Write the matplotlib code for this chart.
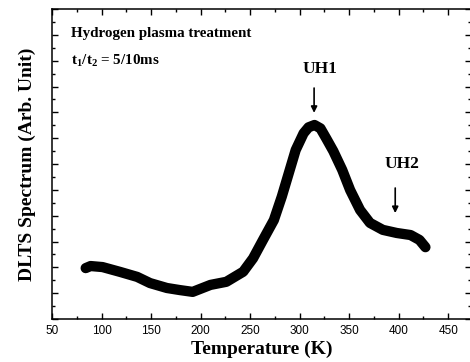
import matplotlib
matplotlib.use("Agg")
import matplotlib.pyplot as plt
from matplotlib.ticker import MultipleLocator

# DLTS spectrum (temperature in K, arbitrary units)
temperature = [84, 89, 101, 119, 136, 149, 166, 179, 192, 210, 226, 243,
               253, 263, 274, 282, 289, 296, 304, 309, 315, 321, 327, 334,
               343, 351, 361, 371, 384, 398, 412, 421, 427]
signal = [1.97, 2.05, 2.01, 1.82, 1.63, 1.39, 1.20, 1.12, 1.05, 1.32, 1.44, 1.83,
          2.35, 3.06, 3.83, 4.74, 5.64, 6.54, 7.19, 7.42, 7.51, 7.38, 6.98, 6.50,
          5.77, 4.99, 4.22, 3.72, 3.45, 3.33, 3.25, 3.06, 2.78]

peak_names = ["UH1", "UH2"]
peak_temps = [314.6, 396.5]

plt.rcParams['mathtext.fontset'] = 'custom'
plt.rcParams['mathtext.bf'] = 'Liberation Serif:bold'
plt.rcParams['mathtext.rm'] = 'Liberation Serif:bold'

serif = 'Liberation Serif'
sans = 'Liberation Sans'

fig = plt.figure(figsize=(4.7, 3.62), dpi=100)
ax = fig.add_axes([52 / 470, 43 / 362, 419 / 470, 310 / 362])

ax.plot(temperature, signal, color='black', lw=7.4,
        solid_capstyle='round', solid_joinstyle='round')

ax.set_xlim(50, 473)
ax.set_ylim(0, 12)
ax.xaxis.set_major_locator(MultipleLocator(50))
ax.xaxis.set_minor_locator(MultipleLocator(25))
ax.yaxis.set_major_locator(MultipleLocator(1))
ax.yaxis.set_minor_locator(MultipleLocator(0.5))
ax.tick_params(which='both', direction='in', top=True, right=True, width=1)
ax.tick_params(which='major', length=4)
ax.tick_params(which='minor', length=2.2)
ax.tick_params(axis='y', labelleft=False)
ax.tick_params(axis='x', labelsize=8.5, pad=4)
for lbl in ax.get_xticklabels():
    lbl.set_fontfamily(sans)
for sp in ax.spines.values():
    sp.set_linewidth(1.1)

ax.set_xlabel("Temperature (K)", fontfamily=serif, fontweight='bold',
              fontsize=14, labelpad=3)
ax.set_ylabel("DLTS Spectrum (Arb. Unit)", fontfamily=serif, fontweight='bold',
              fontsize=14, labelpad=8)

ax.text(0.045, 0.91, "Hydrogen plasma treatment", transform=ax.transAxes,
        fontfamily=serif, fontweight='bold', fontsize=10.8)
ax.text(0.045, 0.823, r"t$_\mathbf{1}$/t$_\mathbf{2}$ = 5/10ms", transform=ax.transAxes,
        fontfamily=serif, fontweight='bold', fontsize=10.8)

# peak labels with arrows
label_y = [9.68, 6.0]
arrow_top = [8.94, 5.07]
arrow_tip = [7.98, 4.10]
label_dx = [6, 7]
for name, t, ly, at, tip, dx in zip(peak_names, peak_temps, label_y,
                                    arrow_top, arrow_tip, label_dx):
    ax.text(t + dx, ly, name, ha='center', va='center', fontfamily=serif,
            fontweight='bold', fontsize=12.5)
    ax.annotate("", xy=(t, tip), xytext=(t, at),
                arrowprops=dict(arrowstyle='-|>', color='black', lw=1.2,
                                mutation_scale=9, shrinkA=0, shrinkB=0))

fig.savefig("out.png", dpi=100)
